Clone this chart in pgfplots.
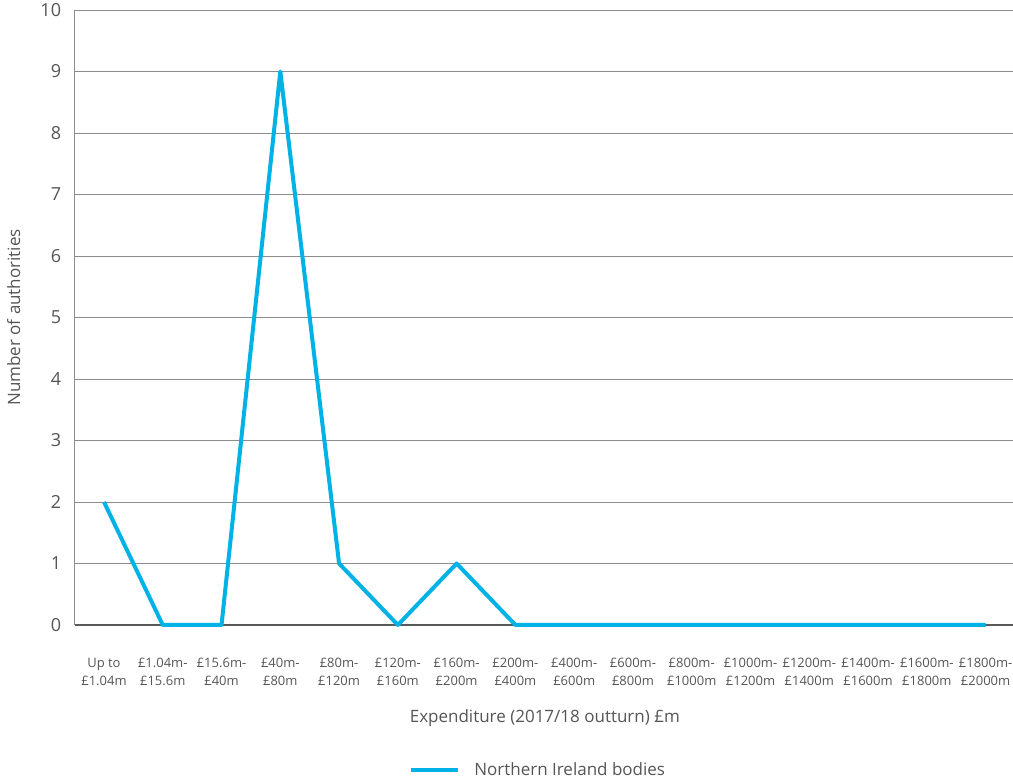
\documentclass[border=0pt]{standalone}
\usepackage{pgfplots}
\pgfplotsset{compat=1.18}
\usepackage{fontspec}
\setmainfont{Open Sans}
\definecolor{niblue}{HTML}{00B2E6}
\definecolor{txtgray}{HTML}{555555}
\definecolor{gridgray}{HTML}{8C8C8C}
\definecolor{basegray}{HTML}{5A5A5A}
\begin{document}
\begin{tikzpicture}[x=1pt,y=1pt]
\useasboundingbox (-74.6pt,-158pt) rectangle (938.4pt,625pt);
\begin{axis}[
  at={(0,0)}, anchor=south west,
  scale only axis,
  width=940.4pt, height=615pt,
  xmin=-0.5, xmax=15.5,
  ymin=0, ymax=10,
  axis x line*=bottom,
  axis y line*=left,
  x axis line style={draw=basegray, line width=1.2pt, -},
  y axis line style={draw=gridgray, line width=0.8pt, -},
  ytick={0,1,...,10},
  ymajorgrids,
  major grid style={draw=gridgray, line width=0.8pt},
  major tick length=0pt,
  xtick={0,...,15},
  xticklabels={Up to\\£1.04m, £1.04m-\\£15.6m, £15.6m-\\£40m, £40m-\\£80m,
  £80m-\\£120m, £120m-\\£160m, £160m-\\£200m, £200m-\\£400m, £400m-\\£600m,
  £600m-\\£800m, £800m-\\£1000m, £1000m-\\£1200m, £1200m-\\£1400m,
  £1400m-\\£1600m, £1600m-\\£1800m, £1800m-\\£2000m},
  xticklabel style={font=\fontsize{13}{18}\selectfont, text=txtgray, align=center, anchor=north, yshift=-30pt},
  yticklabel style={font=\fontsize{18}{20}\selectfont, text=txtgray, xshift=-10pt},
  /pgf/number format/assume math mode=true,
  xlabel={Expenditure (2017/18 outturn) £m},
  xlabel style={font=\fontsize{17}{20}\selectfont, text=txtgray, at={(rel axis cs:0.5,0)}, anchor=center, yshift=-93pt},
  ylabel={Number of authorities},
  ylabel style={font=\fontsize{17}{20}\selectfont, text=txtgray, at={(rel axis cs:0,0.5)}, anchor=center, rotate=0, yshift=61pt},
  clip=false,
  legend style={at={(rel axis cs:0.4930,-0.2358)}, anchor=center, draw=none, fill=none,
    font=\fontsize{17}{20}\selectfont, text=txtgray,
    legend cell align=left},
  legend image code/.code={\draw[niblue, line width=4pt] (-2pt,0pt) -- (45pt,0pt);},
]
\addplot[niblue, line width=4pt, line join=round, mark=none] coordinates {
  (0,2) (1,0) (2,0) (3,9) (4,1) (5,0) (6,1) (7,0) (8,0) (9,0)
  (10,0) (11,0) (12,0) (13,0) (14,0) (15,0)
};
\addlegendentry{\hspace{12pt}Northern Ireland bodies}
\end{axis}
\end{tikzpicture}
\end{document}
